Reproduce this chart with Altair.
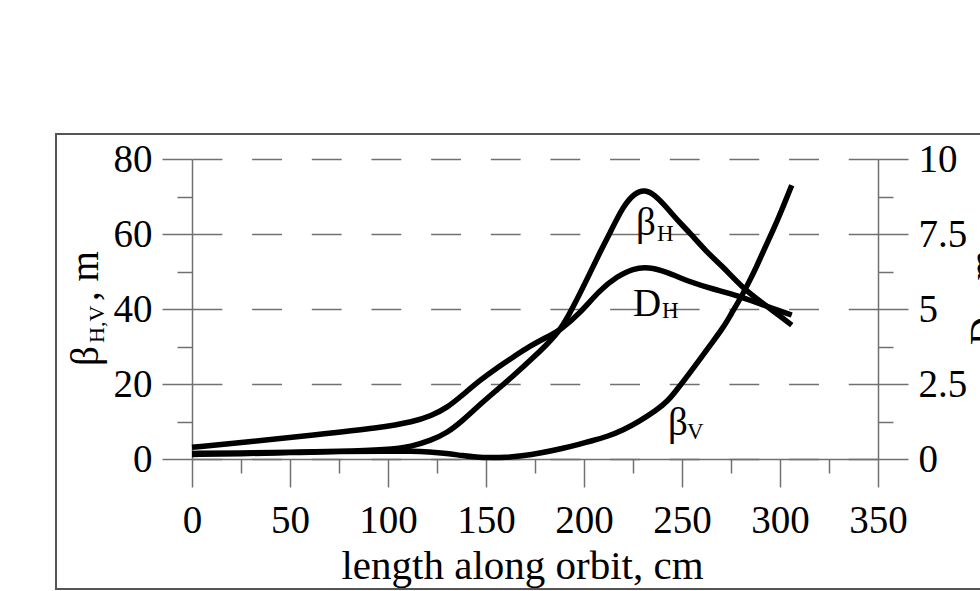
import altair as alt
import pandas as pd

# ---- data ----
bh_x = [0, 25, 50, 75, 100, 112, 122, 130, 138, 147, 156, 164, 173, 181, 188, 194,
        203, 208, 213, 220, 226, 231, 236, 242, 248, 254, 262, 271, 281, 290, 296, 306]
bh_y = [1.5, 1.6, 1.8, 2.0, 2.5, 3.3, 5.0, 6.9, 10.2, 14.6, 18.6, 22.2, 26.5, 30.5, 34.4, 40,
        49.5, 55, 60, 67.5, 71, 71.8, 70.5, 67.2, 63.5, 60.3, 55.5, 51.2, 45.6, 42, 39.7, 35.7]

bv_x = [0, 25, 50, 75, 100, 112, 121, 130, 138, 145, 152, 160, 168, 178, 189, 198, 203, 212,
        220, 228, 237, 243, 247, 253, 259, 265, 271, 275, 280, 284, 288, 292, 296.5, 301, 306]
bv_y = [1.2, 1.4, 1.7, 2.0, 2.1, 2.1, 1.9, 1.5, 0.9, 0.5, 0.35, 0.4, 0.8, 1.6, 2.8, 4.0, 4.7, 6.0,
        7.7, 10.0, 13.0, 15.6, 18.2, 22.3, 26.5, 30.8, 35.0, 38.6, 43.0, 47.0, 51.2, 56.0, 61.0, 66.5, 73.0]

# D_H in m (right axis, 0-10)
dh_x = [0, 28, 62, 96, 113, 122, 130, 138, 147, 156, 164, 172, 181, 188, 198, 208,
        217, 225, 233, 242, 254, 266, 278, 291, 306]
dh_y = [0.39, 0.56, 0.80, 1.04, 1.24, 1.44, 1.70, 2.13, 2.63, 3.06, 3.40, 3.75, 4.06, 4.30, 4.86, 5.63,
        6.09, 6.35, 6.40, 6.24, 5.90, 5.66, 5.46, 5.14, 4.80]

x_ticks = [0, 25, 50, 75, 100, 125, 150, 175, 200, 225, 250, 275, 300, 325, 350]
left_ticks = [0, 10, 20, 30, 40, 50, 60, 70, 80]
right_ticks = [0, 1.25, 2.5, 3.75, 5, 6.25, 7.5, 8.75, 10]

# curve labels (main glyph + subscript), in cm / m of the left axis
lab_main = ["β", "D", "β"]
lab_main_x = [226.5, 225.0, 242.9]
lab_main_y = [59.7, 38.1, 6.4]
lab_sub = ["H", "H", "V"]
lab_sub_x = [237.2, 239.8, 252.6]
lab_sub_y = [58.1, 37.6, 5.3]

x_title = "length along orbit, cm"

FONT = "Liberation Serif"
AX = "#707070"
W, H = 686, 300

left_df = pd.DataFrame({
    "s": ["bh"] * len(bh_x) + ["bv"] * len(bv_x),
    "x": bh_x + bv_x,
    "y": bh_y + bv_y,
})
right_df = pd.DataFrame({"x": dh_x, "y": dh_y})
main_df = pd.DataFrame({"t": lab_main, "x": lab_main_x, "y": lab_main_y})
sub_df = pd.DataFrame({"t": lab_sub, "x": lab_sub_x, "y": lab_sub_y})
one = pd.DataFrame({"a": [0]})

x_axis = alt.Axis(
    values=x_ticks,
    labelExpr="datum.value % 50 === 0 ? datum.label : ''",
    tickSize={"condition": {"test": "datum.value % 50 === 0", "value": 28}, "value": 14},
    grid=False, domainColor=AX, domainWidth=1.5, tickColor=AX, tickWidth=1.5,
    labelFont=FONT, labelFontSize=39, labelColor="black", labelPadding=14,
    labelOverlap=False, labelFlush=False, format="d",
    title=x_title, titleFont=FONT, titleFontSize=41, titleFontWeight="normal",
    titleColor="black", titleX=330, titleY=119, titleBaseline="alphabetic",
    titleAlign="center", titleAnchor="start",
)
x_enc = alt.X("x:Q", scale=alt.Scale(domain=[0, 350], nice=False, zero=False), axis=x_axis)

left_axis = alt.Axis(
    orient="left", values=left_ticks,
    labelExpr="datum.value % 20 === 0 ? datum.label : ''",
    tickSize={"condition": {"test": "datum.value % 20 === 0", "value": 30}, "value": 15},
    grid=True, gridDash=[29.83, 29.83], gridColor=AX, gridWidth=1.5,
    gridOpacity={"condition": {"test": "datum.value % 20 === 0", "value": 1}, "value": 0},
    domainColor=AX, domainWidth=1.5, tickColor=AX, tickWidth=1.5,
    labelFont=FONT, labelFontSize=39, labelColor="black", labelPadding=10,
    labelOverlap=False, labelFlush=False, format="d", title=None,
)
yl_enc = alt.Y("y:Q", scale=alt.Scale(domain=[0, 80], nice=False), axis=left_axis)

right_axis = alt.Axis(
    orient="right", values=right_ticks,
    labelExpr="datum.value % 2.5 === 0 ? format(datum.value, '~g') : ''",
    tickSize={"condition": {"test": "datum.value % 2.5 === 0", "value": 30}, "value": 15},
    grid=False, domainColor=AX, domainWidth=1.5, tickColor=AX, tickWidth=1.5,
    labelFont=FONT, labelFontSize=39, labelColor="black", labelPadding=10,
    labelOverlap=False, labelFlush=False, title=None,
)
yr_enc = alt.Y("y:Q", scale=alt.Scale(domain=[0, 10], nice=False), axis=right_axis)

frame = alt.Chart(one).mark_rect(fill=None, stroke="#555555", strokeWidth=2).encode(
    x=alt.value(56 - 192), x2=alt.value(1010 - 192),
    y=alt.value(134 - 159), y2=alt.value(589 - 159),
)

left_lines = alt.Chart(left_df).mark_line(
    color="black", strokeWidth=5.5, interpolate="basis"
).encode(x=x_enc, y=yl_enc, detail="s:N")

main_txt = alt.Chart(main_df).mark_text(
    font=FONT, fontSize=39, align="left", baseline="alphabetic", color="black"
).encode(x=x_enc, y=yl_enc, text="t:N")
sub_txt = alt.Chart(sub_df).mark_text(
    font=FONT, fontSize=23, align="left", baseline="alphabetic", color="black"
).encode(x=x_enc, y=yl_enc, text="t:N")

left_layer = alt.layer(left_lines, main_txt, sub_txt)

right_line = alt.Chart(right_df).mark_line(
    color="black", strokeWidth=5.5, interpolate="basis"
).encode(x=x_enc, y=yr_enc)

def rot_text(txt, px, py, size):
    return alt.Chart(one).mark_text(
        text=txt, font=FONT, fontSize=size, angle=270, align="left",
        baseline="alphabetic", color="black"
    ).encode(x=alt.value(px - 192), y=alt.value(py - 159))

titles = [
    rot_text("β", 98, 366, 39),
    rot_text("H,V", 104, 343, 22),
    rot_text(", m", 98, 301, 39),
    rot_text("D", 997, 345, 39),
    rot_text("H", 1003, 317, 22),
    rot_text(", m", 997, 300, 39),
]

chart = alt.layer(frame, left_layer, right_line, *titles).resolve_scale(
    y="independent"
).properties(
    width=W, height=H,
    padding={"left": 192, "top": 159, "right": 102, "bottom": 132},
    autosize=alt.AutoSizeParams(type="none"),
    background="white",
).configure_view(stroke=None)

chart.save("out.html", embed_options={"renderer": "svg", "actions": False})
